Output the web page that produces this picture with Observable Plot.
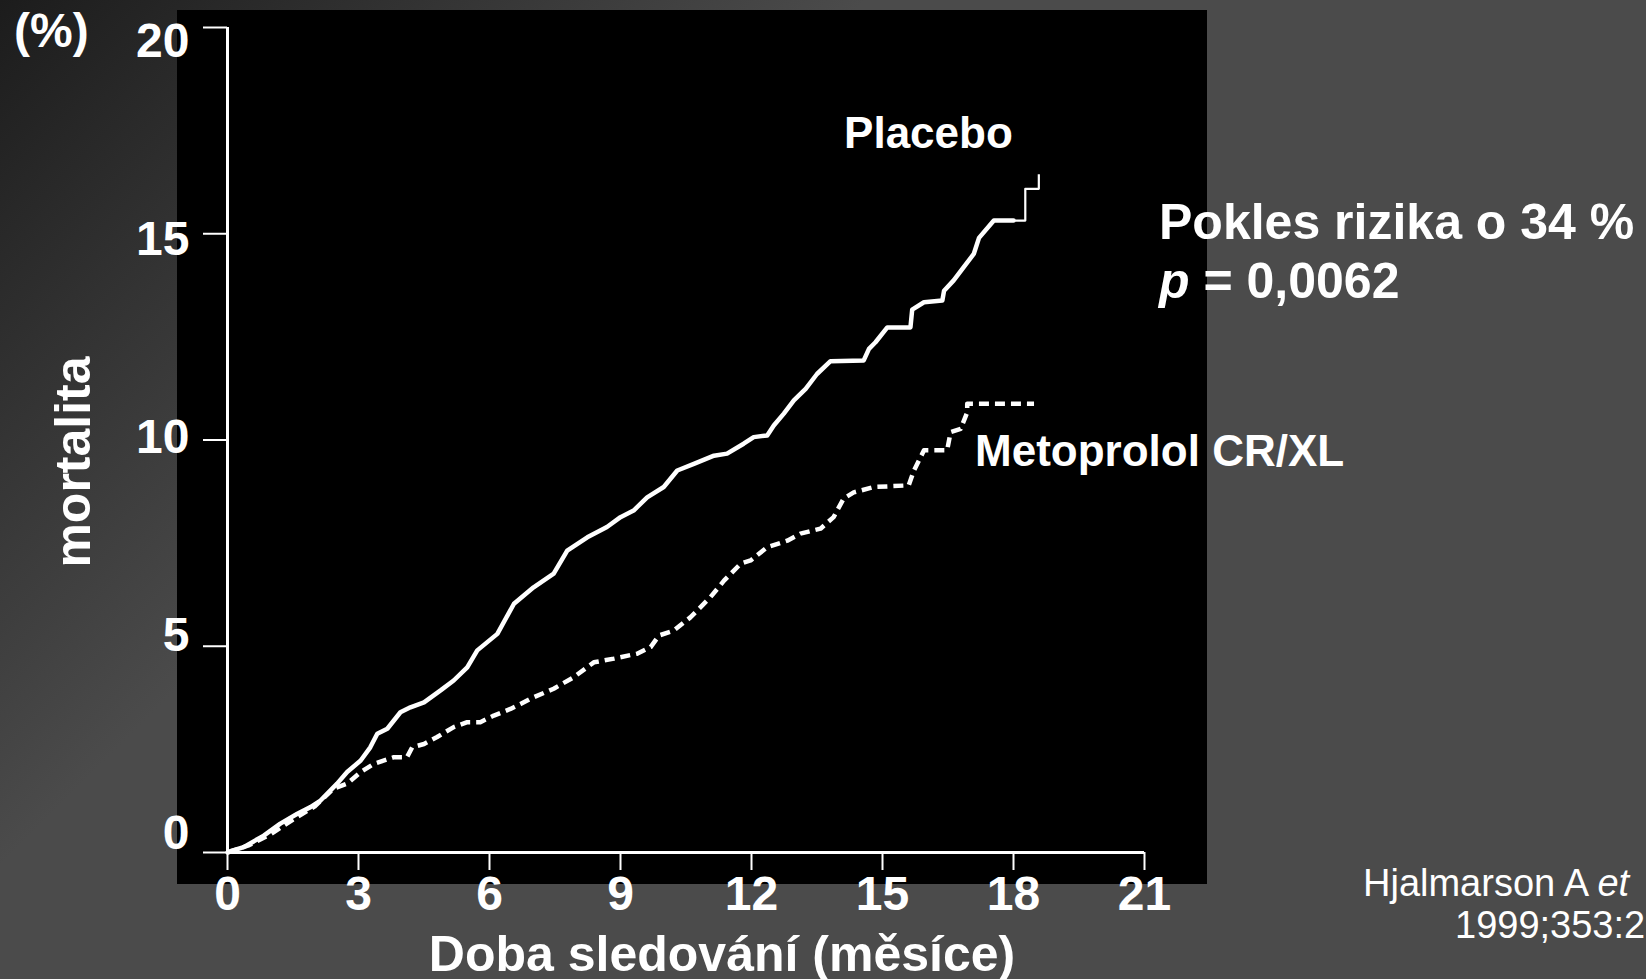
<!DOCTYPE html>
<html><head><meta charset="utf-8">
<script src="https://cdn.jsdelivr.net/npm/d3@7"></script>
<script src="https://cdn.jsdelivr.net/npm/@observablehq/plot@0.6"></script>
<style>
html,body{margin:0;padding:0;width:1646px;height:979px;overflow:hidden;}
body{background:linear-gradient(135deg,#1c1c1c 0%,#4b4b4b 33%);font-family:"Liberation Sans",Arial,sans-serif;color:#fff;position:relative;}
#panel{position:absolute;left:177px;top:10px;width:1030px;height:874px;background:#000;}
#chart{position:absolute;left:0;top:0;}
.t{position:absolute;white-space:nowrap;font-weight:bold;line-height:1;color:#fff;}
</style></head><body>
<div id="panel"></div>
<div id="chart"></div>
<div class="t" style="left:14px;top:7px;font-size:48px">(%)</div>
<div class="t" style="left:73px;top:462px;font-size:50px;transform:translate(-50%,-50%) rotate(-90deg)">mortalita</div>
<div class="t" style="left:222px;width:1000px;text-align:center;top:929px;font-size:50px">Doba sledování (měsíce)</div>
<div class="t" style="left:1159px;top:197px;font-size:50px">Pokles rizika o 34 %</div>
<div class="t" style="left:1159px;top:256px;font-size:50px"><i>p</i> = 0,0062</div>
<div class="t" style="left:1363px;top:862px;font-size:38px;font-weight:normal;line-height:42.3px">Hjalmarson A <i>et</i></div>
<div class="t" style="left:1455px;top:904px;font-size:38px;font-weight:normal;line-height:42.3px">1999;353:2</div>
<script>
// Kaplan–Meier cumulative mortality (%)
const placeboMonths = [0,0.07,0.37,0.83,1.21,1.60,1.90,2.13,2.51,2.74,3.05,3.27,3.43,3.66,3.96,4.19,4.50,4.88,5.18,5.49,5.72,5.95,6.18,6.56,7.01,7.47,7.78,8.24,8.69,9.00,9.30,9.61,9.99,10.30,10.68,11.14,11.44,11.82,12.05,12.36,12.51,12.74,12.97,13.24,13.50,13.81,14.57,14.69,14.84,15.11,15.64,15.68,15.95,16.37,16.41,16.63,16.86,17.09,17.21,17.55,18.0,18.27,18.27,18.58,18.58];
const placeboPct    = [0,0.03,0.13,0.41,0.70,0.94,1.10,1.26,1.67,1.95,2.23,2.55,2.88,3.00,3.40,3.52,3.64,3.93,4.17,4.49,4.90,5.10,5.30,6.03,6.43,6.76,7.32,7.64,7.89,8.13,8.29,8.61,8.86,9.26,9.42,9.62,9.67,9.91,10.07,10.11,10.35,10.64,10.96,11.24,11.60,11.91,11.93,12.21,12.37,12.73,12.73,13.16,13.34,13.38,13.62,13.87,14.19,14.51,14.90,15.32,15.32,15.32,16.09,16.09,16.44];
const metoMonths = [0,0.5,1.0,1.5,2.0,2.43,2.74,3.05,3.35,3.81,4.11,4.23,4.50,4.80,5.18,5.49,5.79,6.10,6.48,6.71,6.94,7.47,7.93,8.39,8.85,9.38,9.69,9.88,10.22,10.60,11.06,11.37,11.75,11.98,12.36,12.82,13.12,13.58,13.88,14.11,14.34,14.80,15.60,15.72,15.95,16.48,16.56,16.79,16.94,16.94,18.47];
const metoPct    = [0,0.18,0.45,0.80,1.12,1.55,1.67,1.95,2.15,2.31,2.31,2.55,2.63,2.80,3.04,3.16,3.16,3.32,3.48,3.60,3.73,3.97,4.25,4.61,4.70,4.82,4.98,5.26,5.38,5.70,6.19,6.59,7.00,7.08,7.40,7.56,7.73,7.85,8.13,8.58,8.73,8.86,8.90,9.26,9.75,9.75,10.19,10.27,10.67,10.88,10.88];
const xTicks = [0,3,6,9,12,15,18,21];
const yTicks = [0,5,10,15,20];
const seriesNames = ["Placebo","Metoprolol CR/XL"];
const labelMonths = [14.12,17.12];
const labelPct = [17.41,9.72];

const placebo = placeboMonths.map((m,i)=>({month:m,pct:placeboPct[i]}));
const meto = metoMonths.map((m,i)=>({month:m,pct:metoPct[i]}));
const labels = seriesNames.map((n,i)=>({name:n,month:labelMonths[i],pct:labelPct[i]}));
const tailStart = 18.0;

const chart = Plot.plot({
  width:1646, height:979,
  marginLeft:227, marginRight:502, marginTop:27, marginBottom:127,
  style:{background:"transparent", color:"white", fontFamily:"Liberation Sans, Arial, sans-serif", overflow:"visible"},
  x:{domain:[0,21]},
  y:{domain:[0,20]},
  marks:[
    Plot.axisX({ticks:xTicks, tickSize:18, tickPadding:5, fontSize:48, fontWeight:"bold", strokeWidth:2, label:null}),
    Plot.axisY({ticks:yTicks, tickSize:24, tickFormat:()=>"", strokeWidth:2, label:null}),
    // y tick labels, slightly offset from their ticks as on the original slide
    Plot.text(yTicks, {x:0, y:d=>d*0.96+0.45, text:d=>String(d), textAnchor:"end", lineAnchor:"middle", dx:-38, fill:"white", fontSize:48, fontWeight:"bold"}),
    Plot.ruleY([0], {stroke:"white", strokeWidth:3}),
    Plot.ruleX([0], {stroke:"white", strokeWidth:3}),
    Plot.line(placebo.filter(d=>d.month<=tailStart), {x:"month", y:"pct", stroke:"white", strokeWidth:4.5}),
    Plot.line(placebo.filter(d=>d.month>=tailStart), {x:"month", y:"pct", stroke:"white", strokeWidth:2.2, strokeLinecap:"butt"}),
    Plot.line(meto, {x:"month", y:"pct", stroke:"white", strokeWidth:4.5, strokeDasharray:"10,6", strokeLinecap:"butt"}),
    Plot.text(labels, {x:"month", y:"pct", text:"name", textAnchor:"start", lineAnchor:"middle", fill:"white", fontSize:44, fontWeight:"bold"})
  ]
});
document.getElementById("chart").appendChild(chart);
</script>
</body></html>
